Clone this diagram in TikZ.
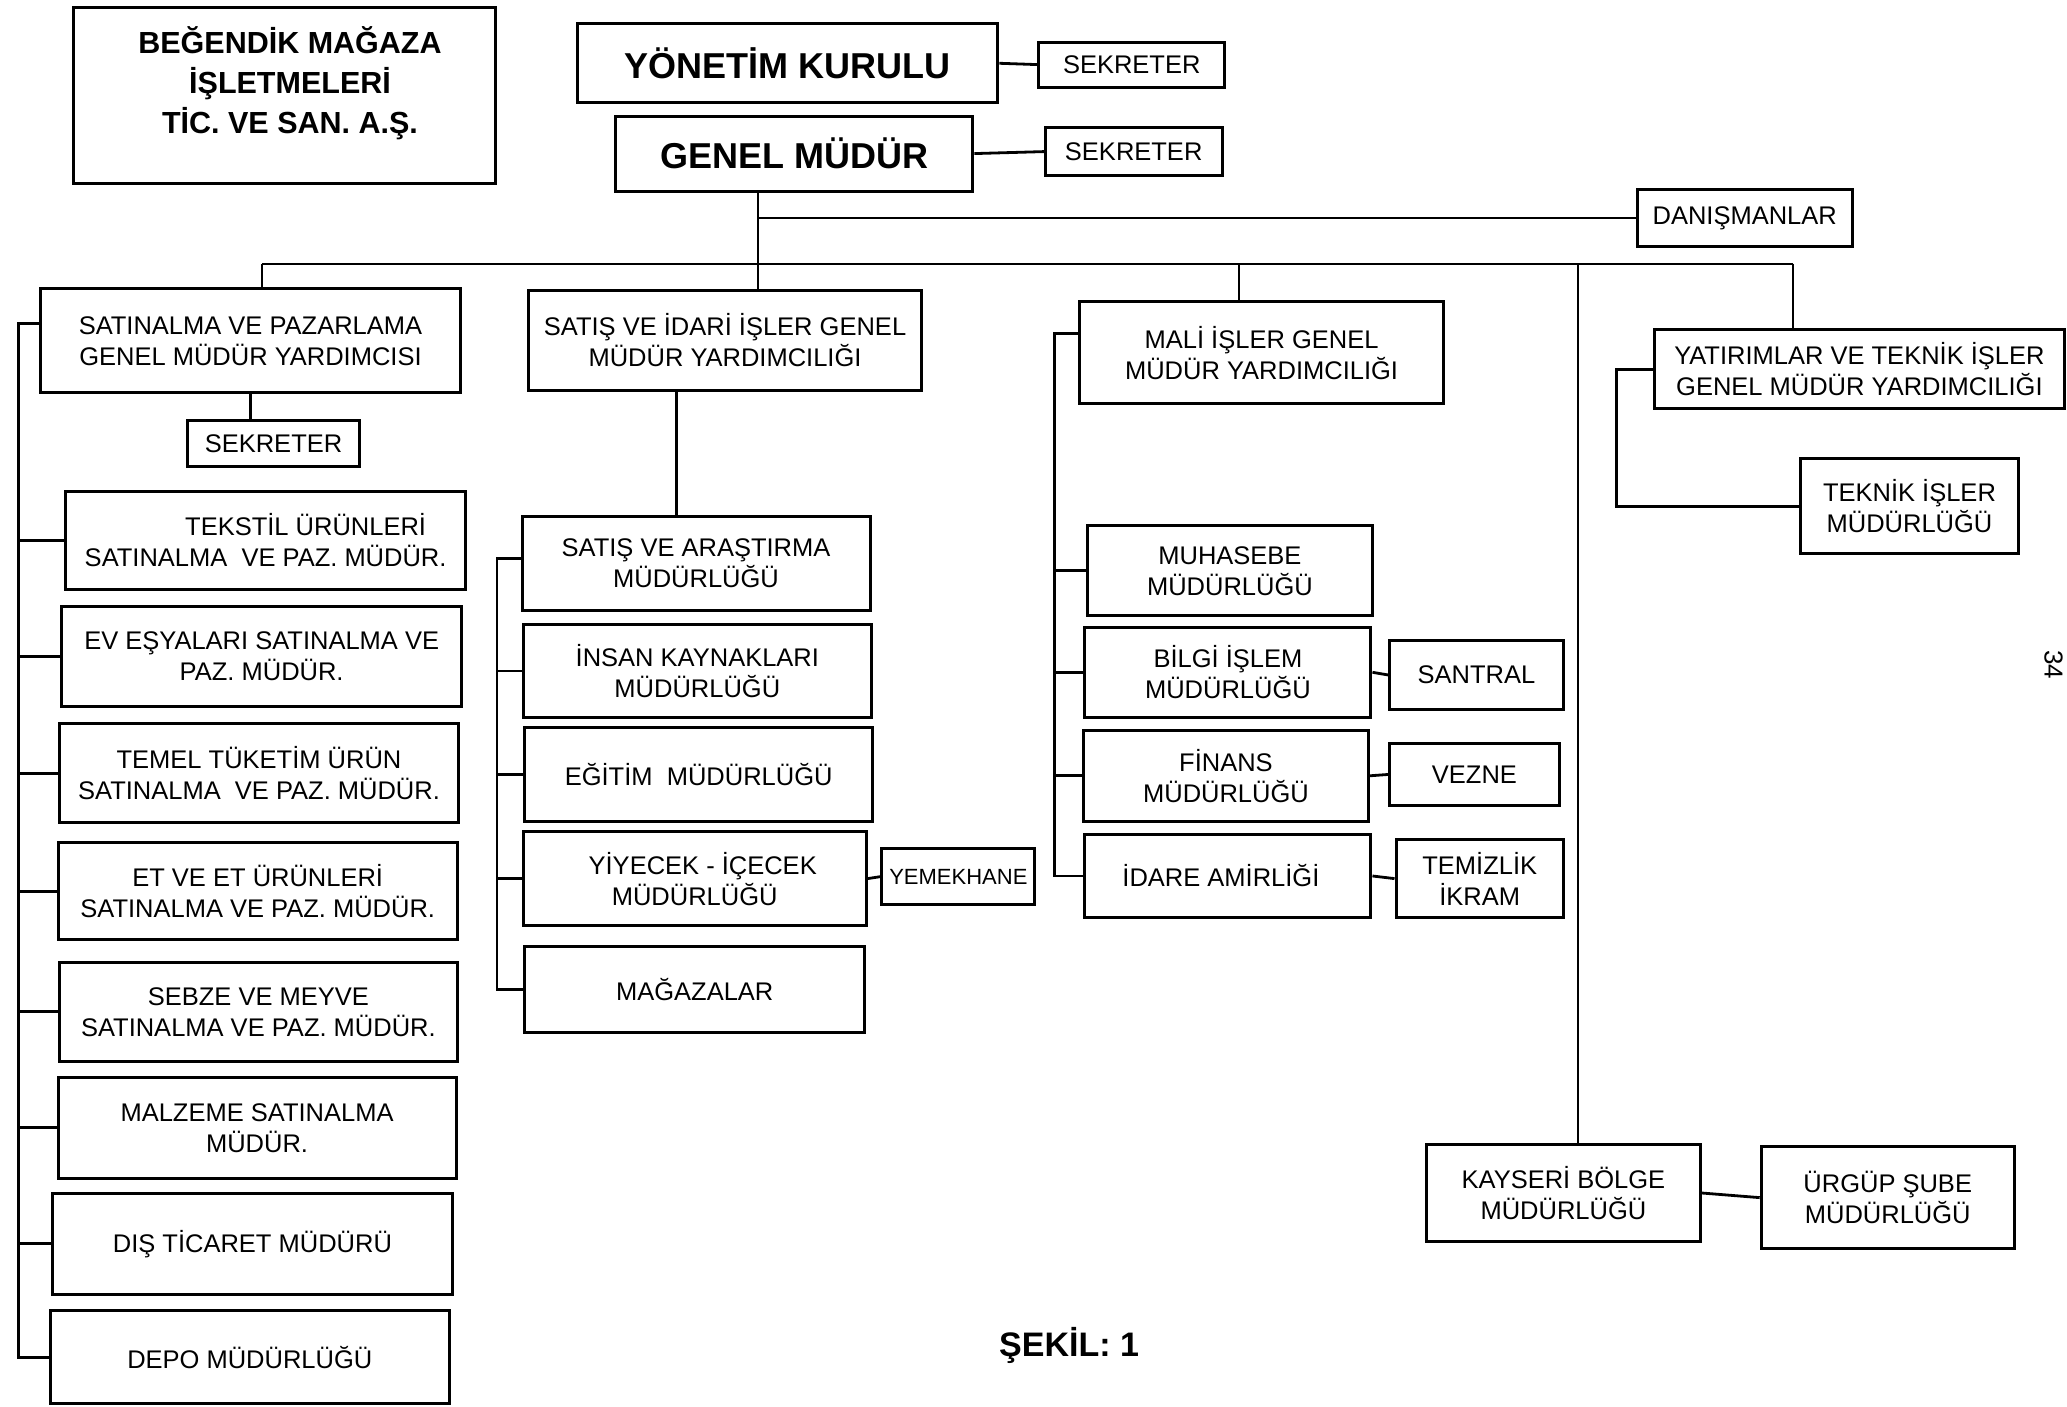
\documentclass[tikz,border=0pt]{standalone}
\usepackage{fontspec}
\setmainfont{Liberation Sans}
\newcommand\bx[7][]{\node[box, #1, minimum width={(#5-#3)*1.3183pt}, minimum height={(#6-#4)*1.3183pt}] (#2) at ({(#3+#5)/2},{(#4+#6)/2}) {#7};}
\begin{document}
\begin{tikzpicture}[x=1.3183pt, y=-1.3183pt,
  box/.style={draw, line width=3pt, inner sep=0pt, align=center,
    font=\fontsize{25.5}{31}\selectfont},
  conn/.style={line width=2.8pt},
  thin/.style={line width=2pt},
  bigbold/.style={font=\fontsize{36}{40}\selectfont\bfseries}]
\useasboundingbox (0,0) rectangle (1568,1067);
\fill[white] (0,0) rectangle (1568,1067);

% top
\bx{title}{56}{6}{376}{139}{}
\node[align=center, font=\fontsize{30.5}{40}\selectfont\bfseries, inner sep=0pt] (titletext) at (220,63)
  {BEĞENDİK MAĞAZA\\İŞLETMELERİ\\TİC. VE SAN. A.Ş.};
\bx[bigbold]{yk}{438}{18}{757}{78}{YÖNETİM KURULU}
\bx{sek1}{788}{32}{929}{66}{SEKRETER}
\bx[bigbold]{gm}{467}{88}{738}{145}{GENEL MÜDÜR}
\bx{sek2}{793}{97}{927}{133}{SEKRETER}
\bx{dan}{1242}{144}{1405}{187}{DANIŞMANLAR}

% second level
\bx{sat}{31}{219}{349}{298}{SATINALMA VE PAZARLAMA\\GENEL MÜDÜR YARDIMCISI}
\bx{sid}{401}{220}{699}{296}{SATIŞ VE İDARİ İŞLER GENEL\\MÜDÜR YARDIMCILIĞI}
\bx{mali}{819}{229}{1095}{306}{MALİ İŞLER GENEL\\MÜDÜR YARDIMCILIĞI}
\bx{yat}{1255}{250}{1566}{310}{YATIRIMLAR VE TEKNİK İŞLER\\GENEL MÜDÜR YARDIMCILIĞI}

% left column
\bx{sek3}{142}{319}{273}{354}{SEKRETER}
\bx{teks}{50}{373}{353}{447}{\hspace*{80pt}TEKSTİL ÜRÜNLERİ\\SATINALMA\ \ VE PAZ. MÜDÜR.}
\bx{ev}{47}{460}{350}{536}{EV EŞYALARI SATINALMA VE\\PAZ. MÜDÜR.}
\bx{temel}{45}{549}{348}{624}{TEMEL TÜKETİM ÜRÜN\\SATINALMA\ \ VE PAZ. MÜDÜR.}
\bx{et}{44}{639}{347}{713}{ET VE ET ÜRÜNLERİ\\SATINALMA VE PAZ. MÜDÜR.}
\bx{sebze}{45}{730}{347}{805}{SEBZE VE MEYVE\\SATINALMA VE PAZ. MÜDÜR.}
\bx{malz}{44}{817}{346}{894}{MALZEME SATINALMA\\MÜDÜR.}
\bx{dis}{40}{905}{343}{982}{DIŞ TİCARET MÜDÜRÜ}
\bx{depo}{38}{994}{341}{1065}{DEPO MÜDÜRLÜĞÜ}

% middle column
\bx{sar}{396}{392}{660}{463}{SATIŞ VE ARAŞTIRMA\\MÜDÜRLÜĞÜ}
\bx{ik}{397}{474}{661}{544}{İNSAN KAYNAKLARI\\MÜDÜRLÜĞÜ}
\bx{egt}{398}{552}{662}{623}{EĞİTİM\ \ MÜDÜRLÜĞÜ}
\bx{yiy}{397}{631}{657}{702}{\hspace*{16pt}YİYECEK - İÇECEK\\MÜDÜRLÜĞÜ}
\bx[font=\fontsize{22}{26}\selectfont]{yem}{669}{644}{785}{686}{YEMEKHANE}
\bx{mag}{398}{718}{656}{783}{MAĞAZALAR}

% finance column
\bx{muh}{825}{399}{1041}{467}{MUHASEBE\\MÜDÜRLÜĞÜ}
\bx{bilgi}{823}{476}{1040}{544}{BİLGİ İŞLEM\\MÜDÜRLÜĞÜ}
\bx{santral}{1054}{486}{1186}{538}{SANTRAL}
\bx{fin}{822}{554}{1038}{623}{FİNANS\\MÜDÜRLÜĞÜ}
\bx{vezne}{1054}{564}{1183}{611}{VEZNE}
\bx{idare}{823}{633}{1040}{696}{İDARE AMİRLİĞİ\hspace*{14pt}}
\bx{temiz}{1059}{637}{1186}{696}{TEMİZLİK\\İKRAM}

% technical / regional
\bx{teknik}{1366}{348}{1531}{420}{TEKNİK İŞLER\\MÜDÜRLÜĞÜ}
\bx{kay}{1082}{868}{1290}{942}{KAYSERİ BÖLGE\\MÜDÜRLÜĞÜ}
\bx{urgup}{1336}{870}{1528}{947}{ÜRGÜP ŞUBE\\MÜDÜRLÜĞÜ}

\node[font=\fontsize{34}{40}\selectfont\bfseries, inner sep=0pt] (sekil) at (811,1021) {ŞEKİL: 1};
\node[rotate=-90, anchor=base west, font=\fontsize{26}{30}\selectfont, inner sep=0pt] (pageno) at (1551,493) {34};

% coordinates for buses
\coordinate (trunk) at (575,0);
\coordinate (busL) at (199,200);
\coordinate (busR) at (1360,200);
\coordinate (bm) at (940,200);
\coordinate (bk) at (1197,200);
\coordinate (lv) at (14,0);
\coordinate (mv) at (513,0);
\coordinate (ml) at (377,0);
\coordinate (rl) at (800,0);
\coordinate (yl) at (1226,0);

% top connectors
\draw[conn] (yk.east) -- (sek1.west);
\draw[conn] (gm.east) -- (sek2.west);
\draw[thin] (gm.south -| trunk) -- (sid.north -| trunk);
\draw[thin] (dan.west) -- (dan.west -| trunk);
\draw[thin] (busL) -- (busR);
\draw[thin] (busL) -- (sat.north -| busL);
\draw[thin] (bm) -- (mali.north -| bm);
\draw[thin] (bk) -- (kay.north -| bk);
\draw[thin] (busR) -- (yat.north -| busR);

% left column
\draw[conn] (sat.south) -- (sek3.north -| sat.south);
\draw[conn] ([yshift=17pt]sat.west) -| (depo.west -| lv) -- (depo.west);
\foreach \n in {teks,ev,temel,et,sebze,malz,dis}
  \draw[conn] (\n.west) -- (\n.west -| lv);

% middle column
\draw[conn] (sid.south -| mv) -- (sar.north -| mv);
\draw[conn] ([yshift=5pt]sar.west) -| (mag.west -| ml) -- (mag.west);
\foreach \n in {ik,egt,yiy}
  \draw[conn] (\n.west) -- (\n.west -| ml);
\draw[conn] (yiy.east) -- (yem.west);

% finance column
\draw[conn] ([yshift=19pt]mali.west) -| (idare.west -| rl) -- (idare.west);
\foreach \n in {muh,bilgi,fin}
  \draw[conn] (\n.west) -- (\n.west -| rl);
\draw[conn] (bilgi.east) -- (santral.west);
\draw[conn] (fin.east) -- (vezne.west);
\draw[conn] (idare.east) -- (temiz.west);

% technical
\draw[conn] (yat.west) -| (teknik.west -| yl) -- (teknik.west);
\draw[conn] (kay.east) -- (urgup.west);
\end{tikzpicture}
\end{document}
